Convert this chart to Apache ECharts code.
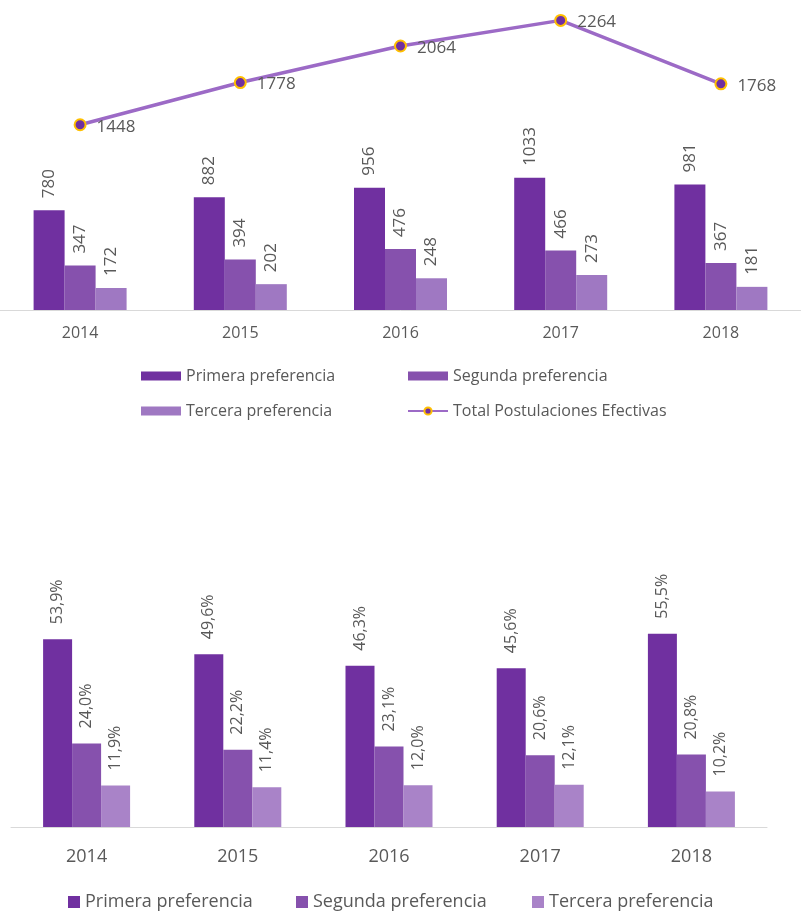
<!DOCTYPE html>
<html>
<head>
<meta charset="utf-8">
<script src="https://cdn.jsdelivr.net/npm/echarts@6/dist/echarts.min.js"></script>
<style>
  html, body { margin: 0; padding: 0; background: #fff; }
  #chart { width: 801px; height: 914px; }
</style>
</head>
<body>
<div id="chart"></div>
<script>
// years shown on both charts
const years = ['2014', '2015', '2016', '2017', '2018'];

// top chart: counts
const primera = [780, 882, 956, 1033, 981];
const segunda = [347, 394, 476, 466, 367];
const tercera = [172, 202, 248, 273, 181];
const total = [1448, 1778, 2064, 2264, 1768];

// bottom chart: shares (%)
const primeraPct = [53.9, 49.6, 46.3, 45.6, 55.5];
const segundaPct = [24.0, 22.2, 23.1, 20.6, 20.8];
const terceraPct = [11.9, 11.4, 12.0, 12.1, 10.2];

const C1 = '#7030A0';
const C2 = '#8651AD';
const C3 = '#9F78C2';
const C3b = '#A983C8';
const LINE = '#9C6AC6';
const GRAY = '#595959';
const FONT = '"Open Sans", sans-serif';

const pct = p => p.value.toFixed(1).replace('.', ',') + '%';

function barLabel(size, dist, fmt) {
    return {
        show: true,
        position: 'top',
        rotate: 90,
        align: 'left',
        verticalAlign: 'middle',
        distance: dist,
        color: GRAY,
        fontSize: size,
        fontFamily: FONT,
        formatter: fmt
    };
}

function topBar(name, data, color) {
    return {
        name: name, type: 'bar', data: data,
        xAxisIndex: 0, yAxisIndex: 0,
        barWidth: 31, barGap: '0%',
        itemStyle: { color: color },
        label: barLabel(17, 12)
    };
}

function bottomBar(name, data, color) {
    return {
        name: name, type: 'bar', data: data,
        xAxisIndex: 1, yAxisIndex: 1,
        barWidth: 29, barGap: '0%',
        itemStyle: { color: color },
        label: barLabel(16, 15, pct)
    };
}

const legendText = { color: GRAY, fontSize: 16, fontFamily: FONT, lineHeight: 16 };
const legendText2 = { color: GRAY, fontSize: 18, fontFamily: FONT, lineHeight: 18 };

const option = {
    animation: false,
    legend: [
        {
            orient: 'vertical', left: 141, top: 368, padding: 0,
            itemWidth: 40, itemHeight: 9, itemGap: 19,
            selectedMode: false, textStyle: legendText,
            data: [
                { name: 'Primera preferencia', icon: 'rect' },
                { name: 'Tercera preferencia', icon: 'rect' }
            ]
        },
        {
            orient: 'vertical', left: 407, top: 368, padding: 0,
            itemWidth: 40, itemHeight: 9, itemGap: 19,
            selectedMode: false, textStyle: legendText,
            data: [
                { name: 'Segunda preferencia', icon: 'rect' },
                'Total Postulaciones Efectivas'
            ]
        },
        {
            left: 68, top: 893, padding: 0, itemWidth: 12, itemHeight: 12, icon: 'rect',
            selectedMode: false, textStyle: legendText2,
            data: [{ name: 'Primera preferencia', itemStyle: { color: C1 } }]
        },
        {
            left: 296, top: 893, padding: 0, itemWidth: 12, itemHeight: 12, icon: 'rect',
            selectedMode: false, textStyle: legendText2,
            data: [{ name: 'Segunda preferencia', itemStyle: { color: C2 } }]
        },
        {
            left: 532, top: 893, padding: 0, itemWidth: 12, itemHeight: 12, icon: 'rect',
            selectedMode: false, textStyle: legendText2,
            data: [{ name: 'Tercera preferencia', itemStyle: { color: C3b } }]
        }
    ],
    grid: [
        { left: 0, width: 801, top: 3, height: 307 },
        { left: 11, width: 756, top: 618, height: 209 }
    ],
    xAxis: [
        {
            type: 'category', gridIndex: 0, data: years,
            axisLine: { lineStyle: { color: '#D9D9D9', width: 1 } },
            axisTick: { show: false },
            axisLabel: { color: GRAY, fontSize: 16, fontFamily: FONT, margin: 15 }
        },
        {
            type: 'category', gridIndex: 1, data: years,
            axisLine: { lineStyle: { color: '#D9D9D9', width: 1 } },
            axisTick: { show: false },
            axisLabel: { color: GRAY, fontSize: 18, fontFamily: FONT, margin: 21 }
        }
    ],
    yAxis: [
        { type: 'value', gridIndex: 0, min: 0, max: 2400, show: false, splitLine: { show: false } },
        { type: 'value', gridIndex: 1, min: 0, max: 60, show: false, splitLine: { show: false } }
    ],
    series: [
        topBar('Primera preferencia', primera, C1),
        topBar('Segunda preferencia', segunda, C2),
        topBar('Tercera preferencia', tercera, C3),
        {
            name: 'Total Postulaciones Efectivas', type: 'line', data: total,
            xAxisIndex: 0, yAxisIndex: 0, z: 5,
            symbol: 'circle', symbolSize: 11,
            lineStyle: { color: LINE, width: 3.5 },
            itemStyle: { color: C1, borderColor: '#FFC000', borderWidth: 2 },
            label: {
                show: true, position: 'right', distance: 10, offset: [0, 2],
                color: GRAY, fontSize: 17, fontFamily: FONT
            }
        },
        bottomBar('Primera preferencia', primeraPct, C1),
        bottomBar('Segunda preferencia', segundaPct, C2),
        bottomBar('Tercera preferencia', terceraPct, C3b)
    ]
};

const chart = echarts.init(document.getElementById('chart'), null, { renderer: 'canvas' });
chart.setOption(option);
</script>
</body>
</html>
